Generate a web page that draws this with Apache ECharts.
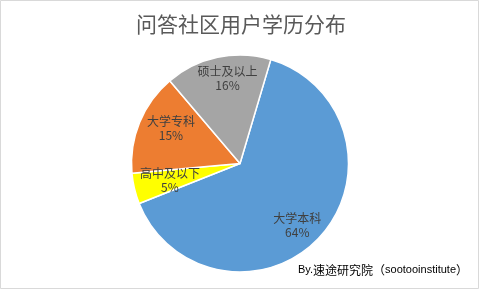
<!DOCTYPE html>
<html><head><meta charset="utf-8">
<script src="https://cdn.jsdelivr.net/npm/echarts@6/dist/echarts.min.js"></script>
<style>html,body{margin:0;padding:0;background:#fff}#c{width:482px;height:290px}</style>
</head><body><div id="c"></div>
<script>
const titleText = '问答社区用户学历分布';
const footerPrefix = 'By.';
const footerCn = '速途研究院（';
const footerLatin = 'sootooinstitute';
const footerEnd = '）';
const categories = ['大学本科', '高中及以下', '大学专科', '硕士及以上'];
const values = [64.4, 4.6, 15.2, 15.8];
const percentLabels = ['64%', '5%', '15%', '16%'];
const colors = ['#5B9BD5', '#FFFF00', '#ED7D31', '#A5A5A5'];

// label nudges (style, not data)
const labelOffsets = [[-5, 5], [12, -3], [9, -3.5], [5, -2.5]];

const FONT = '"Noto Sans CJK SC", "Noto Sans", sans-serif';
const LATIN = '"Liberation Sans", Arial, sans-serif';
const center = [240, 163.5];
const R = 108.5;
const startAngle = 73.5;

const chart = echarts.init(document.getElementById('c'), null, { renderer: 'canvas' });
chart.setOption({
  animation: false,
  backgroundColor: '#ffffff',
  title: {
    text: titleText, left: 'center', top: 9,
    textStyle: { fontFamily: FONT, fontSize: 21, fontWeight: 'normal', color: '#595959' }
  },
  graphic: [
    { type: 'rect', shape: { x: 0.5, y: 0.5, width: 478, height: 288 }, style: { fill: 'none', stroke: '#D9D9D9', lineWidth: 1 }, silent: true, z: -1 },
    { type: 'text', right: 14, top: 264,
      style: {
        text: '{l|' + footerPrefix + '}{c|' + footerCn + '}{l|' + footerLatin + '}{c|' + footerEnd + '}',
        rich: {
          l: { fontFamily: LATIN, fontSize: 11, fill: '#000000' },
          c: { fontFamily: FONT, fontSize: 12, fill: '#000000' }
        }
      } }
  ],
  series: [
    {
      type: 'pie', center: center, radius: [0, R], startAngle: startAngle, clockwise: true,
      data: categories.map((c, i) => ({ name: c, value: values[i], itemStyle: { color: colors[i] } })),
      label: { show: false }, labelLine: { show: false },
      itemStyle: { borderColor: '#ffffff', borderWidth: 1.5 }, silent: true
    },
    {
      type: 'pie', center: center, radius: [R * 0.5, R], startAngle: startAngle, clockwise: true,
      data: categories.map((c, i) => ({ name: c, value: values[i], label: { offset: labelOffsets[i] } })),
      itemStyle: { color: 'rgba(0,0,0,0)' }, silent: true,
      labelLine: { show: false },
      label: {
        show: true, position: 'inside',
        formatter: p => p.name + '\n' + percentLabels[p.dataIndex],
        fontFamily: FONT, fontSize: 12, lineHeight: 14, color: '#404040'
      }
    }
  ]
});
</script></body></html>
